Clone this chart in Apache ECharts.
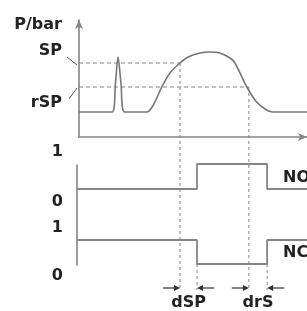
<!DOCTYPE html>
<html><head><meta charset="utf-8">
<script src="https://cdn.jsdelivr.net/npm/echarts@6/dist/echarts.min.js"></script>
<style>html,body{margin:0;padding:0;background:#fff}#c{width:307px;height:311px}</style>
</head><body><div id="c"></div><script>
// ---- data ----
const pressureT = [0, 14.5, 16.0, 17.1, 18.4, 20.0, 29.8, 32.6, 36.3, 39.9, 44.3, 47.9, 53.1, 57.5, 61.8, 66.2, 68.4, 73.6, 77.9, 82.3, 85.1, 100];
const pressureP = [2.5, 2.5, 5.4, 8.0, 5.4, 2.5, 2.5, 3.2, 5.0, 6.4, 7.4, 8.0, 8.4, 8.5, 8.4, 7.9, 7.4, 5.0, 3.5, 2.7, 2.5, 2.5];
const SP = 7.4, rSP = 5.0;
const tSP = 44.3, tRSP = 74.5;        // pressure crosses SP / rSP
const dSP = 7.45, drS = 8.0;          // switching delays
const tOn = tSP + dSP, tOff = tRSP + drS;
const sigT = [-0.9, tOn, tOff, 100];
const noStates = [0, 1, 0, 0];
const ncStates = [1, 0, 1, 1];
const stateLabels = ['0', '1'];
const delayNames = ['dSP', 'drS'];
const textLabels = {yName: 'P/bar', sp: 'SP', rsp: 'rSP', no: 'NO', nc: 'NC'};

const GRAY = '#858585', TXT = '#222';
const FONT = 'bold 16px "DejaVu Sans"';
const zip = (a, b) => a.map((v, i) => [v, b[i]]);
const bottomP = -15.3;   // pressure-units level where guide lines end

const chart = echarts.init(document.getElementById('c'), null, {renderer: 'canvas'});
const hiddenX = (idx, min) => ({gridIndex: idx, type: 'value', min: min, max: 100, show: false});
const stateAxis = (idx) => ({
  gridIndex: idx, type: 'value', min: -0.5, max: 1.5,
  axisLine: {show: false}, axisTick: {show: false}, splitLine: {show: false},
  axisLabel: {show: true, customValues: [-0.5, 1.5], margin: 14,
    formatter: v => stateLabels[v < 0 ? 0 : 1],
    color: TXT, fontFamily: 'DejaVu Sans', fontWeight: 'bold', fontSize: 16}
});

const arrowY = -1.0, textY = -1.62;
const arrows = [[tSP - 7.5, tSP], [tOn + 7.5, tOn], [tRSP - 7.5, tRSP], [tOff + 7.5, tOff]];

chart.setOption({
  animation: false,
  grid: [
    {left: 79, right: 0, top: 20, height: 117},
    {left: 77, right: 0, top: 151.5, height: 50},
    {left: 77, right: 0, top: 228, height: 48},
    {left: 77, right: 0, top: 165, height: 100}
  ],
  xAxis: [
    {gridIndex: 0, type: 'value', min: 0, max: 100,
      axisLine: {show: true, lineStyle: {color: GRAY, width: 1.6}, symbol: ['none', 'arrow'], symbolSize: [6, 9]},
      axisTick: {show: false}, axisLabel: {show: false}, splitLine: {show: false}},
    hiddenX(1, -0.9), hiddenX(2, -0.9), hiddenX(3, 0)
  ],
  yAxis: [
    {gridIndex: 0, type: 'value', min: 0, max: 11.7,
      axisLine: {show: true, lineStyle: {color: GRAY, width: 1.6}, symbol: ['none', 'arrow'], symbolSize: [6, 9]},
      axisTick: {show: false}, axisLabel: {show: false}, splitLine: {show: false}},
    stateAxis(1), stateAxis(2),
    {gridIndex: 3, type: 'value', min: 0, max: 1,
      axisLine: {show: true, lineStyle: {color: GRAY, width: 1.6}},
      axisTick: {show: false}, axisLabel: {show: false}, splitLine: {show: false}}
  ],
  series: [
    {type: 'line', xAxisIndex: 0, yAxisIndex: 0, data: [[0, SP], [tSP, SP]], symbol: 'none', clip: false,
      lineStyle: {color: GRAY, width: 1, type: [4, 3]}},
    {type: 'line', xAxisIndex: 0, yAxisIndex: 0, data: [[0, rSP], [tRSP, rSP]], symbol: 'none', clip: false,
      lineStyle: {color: GRAY, width: 1, type: [4, 3]}},
    {type: 'line', xAxisIndex: 0, yAxisIndex: 0, data: [[tSP, SP], [tSP, bottomP]], symbol: 'none', clip: false,
      lineStyle: {color: GRAY, width: 1, type: [3, 3]}},
    {type: 'line', xAxisIndex: 0, yAxisIndex: 0, data: [[tRSP, rSP], [tRSP, bottomP]], symbol: 'none', clip: false,
      lineStyle: {color: GRAY, width: 1, type: [3, 3]}},
    {type: 'line', xAxisIndex: 0, yAxisIndex: 0, data: zip(pressureT, pressureP), symbol: 'none',
      smooth: 0.3, lineStyle: {color: '#777', width: 1.6}},
    {type: 'line', xAxisIndex: 1, yAxisIndex: 1, data: zip(sigT, noStates), step: 'end', symbol: 'none',
      lineStyle: {color: GRAY, width: 1.8}},
    {type: 'line', xAxisIndex: 2, yAxisIndex: 2, data: zip(sigT, ncStates), step: 'end', symbol: 'none',
      lineStyle: {color: GRAY, width: 1.8}},
    {type: 'line', xAxisIndex: 2, yAxisIndex: 2, data: [[tOn, 0], [tOn, -1.08]], symbol: 'none', clip: false,
      lineStyle: {color: GRAY, width: 1, type: [3, 3]}},
    {type: 'line', xAxisIndex: 2, yAxisIndex: 2, data: [[tOff, 0], [tOff, -1.08]], symbol: 'none', clip: false,
      lineStyle: {color: GRAY, width: 1, type: [3, 3]}},
    {type: 'custom', xAxisIndex: 2, yAxisIndex: 2, clip: false,
      data: arrows.map(a => [a[0], a[1], arrowY]),
      renderItem: function (params, api) {
        const a = api.coord([api.value(0), api.value(2)]);
        const b = api.coord([api.value(1), api.value(2)]);
        const d = b[0] > a[0] ? 1 : -1;
        const h = 6, w = 3;
        return {type: 'group', children: [
          {type: 'line', shape: {x1: a[0], y1: a[1], x2: b[0] - d * h, y2: b[1]}, style: {stroke: '#333', lineWidth: 1.2}},
          {type: 'polygon', shape: {points: [[b[0], b[1]], [b[0] - d * h, b[1] - w], [b[0] - d * h, b[1] + w]]}, style: {fill: '#333'}}
        ]};
      }},
    {type: 'custom', xAxisIndex: 2, yAxisIndex: 2, clip: false,
      data: [[(tSP + tOn) / 2, textY, 0], [(tRSP + tOff) / 2, textY, 1]],
      renderItem: function (params, api) {
        const p = api.coord([api.value(0), api.value(1)]);
        return {type: 'text', x: p[0], y: p[1],
          style: {text: delayNames[api.value(2)], fill: TXT, font: FONT, align: 'center', verticalAlign: 'middle'}};
      }}
  ],
  graphic: [
    {type: 'text', right: 307 - 62, top: 17, style: {text: textLabels.yName, fill: TXT, font: FONT}},
    {type: 'text', right: 307 - 62, top: 43, style: {text: textLabels.sp, fill: TXT, font: FONT}},
    {type: 'text', right: 307 - 62, top: 95, style: {text: textLabels.rsp, fill: TXT, font: FONT}},
    {type: 'line', shape: {x1: 67, y1: 57, x2: 77, y2: 65}, style: {stroke: '#555', lineWidth: 1}},
    {type: 'line', shape: {x1: 69, y1: 99, x2: 77, y2: 88}, style: {stroke: '#555', lineWidth: 1}},
    {type: 'text', left: 283, top: 170, style: {text: textLabels.no, fill: TXT, font: FONT}},
    {type: 'text', left: 283, top: 245, style: {text: textLabels.nc, fill: TXT, font: FONT}}
  ]
});
</script></body></html>
